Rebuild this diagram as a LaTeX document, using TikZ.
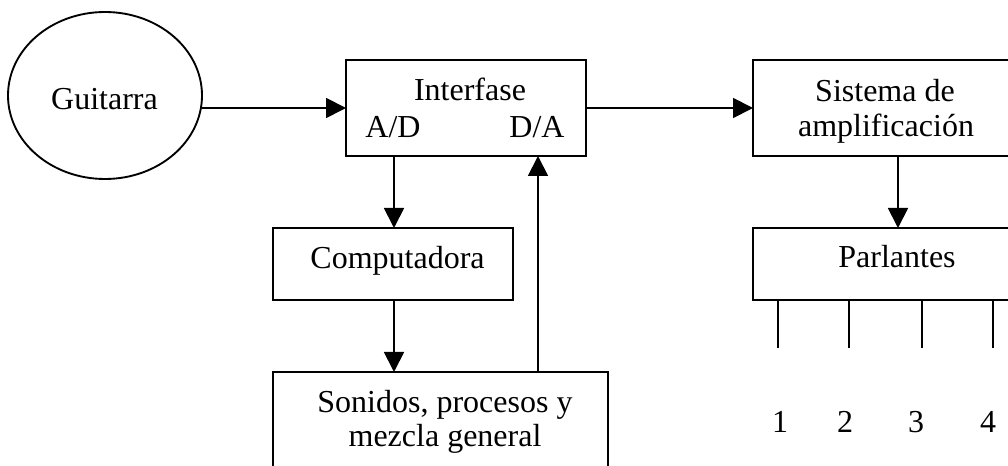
\documentclass[tikz,border=0pt]{standalone}
\usepackage{fontspec}
\setmainfont{Liberation Serif}
\usetikzlibrary{arrows.meta,shapes.geometric}
\begin{document}
\begin{tikzpicture}[x=0.75pt,y=-0.75pt,
  line width=1.4pt,
  box/.style={draw,rectangle,inner sep=0pt,outer sep=0pt},
  txt/.style={inner sep=0pt,anchor=base,font=\fontsize{24}{28}\selectfont},
  flow/.style={-{Triangle[length=15pt,width=15pt]}}]
\useasboundingbox (0,0) rectangle (1008,466);
\clip (0,0) rectangle (1008,466);

% blocks
\node[draw,ellipse,inner sep=0pt,outer sep=0pt,minimum width=145.5pt,minimum height=125.25pt] (guit) at (105,95.5) {};
\node[box,minimum width=180pt,minimum height=72pt] (inter) at (466,108) {};
\node[box,minimum width=217.5pt,minimum height=72pt] (sis) at (898,108) {};
\node[box,minimum width=217.5pt,minimum height=54pt] (parl) at (898,264) {};
\node[box,minimum width=180pt,minimum height=54pt] (comp) at (393,264) {};
\node[box,minimum width=251.25pt,minimum height=111pt] (son) at (440.5,446) {};

% labels
\node[txt] (tguit) at (104.5,110) {Guitarra};
\node[txt] (tinter) at (470,101) {Interfase};
\node[txt] (tad) at (393,138) {A/D};
\node[txt] (tda) at (537,138) {D/A};
\node[txt] (tsis1) at (885,102) {Sistema de};
\node[txt] (tsis2) at (886,137) {amplificación};
\node[txt] (tparl) at (897,268) {Parlantes};
\node[txt] (tcomp) at (397.5,269) {Computadora};
\node[txt] (tson1) at (445,413) {Sonidos, procesos y};
\node[txt] (tson2) at (445,447) {mezcla general};

% signal path
\draw[flow] (inter.west -| guit.east) -- (inter.west);
\draw[flow] (inter.east) -- (sis.west);
\draw[flow] (sis.south) -- (parl.north);
\coordinate (adout) at (394,156);
\draw[flow] (adout) -- (adout |- comp.north);
\draw[flow] (comp.south -| adout) -- (son.north -| adout);
\coordinate (dain) at (538,156);
\draw[flow] (son.north -| dain) -- (dain);

% speaker outputs
\foreach \x/\n/\lx [count=\i] in {778/1/780, 849/2/845, 922/3/916, 993/4/988}{
  \coordinate (out\i) at (\x,348);
  \draw (parl.south -| out\i) -- (out\i);
  \node[txt] (num\i) at (\lx,433) {\n};
}
\end{tikzpicture}
\end{document}
